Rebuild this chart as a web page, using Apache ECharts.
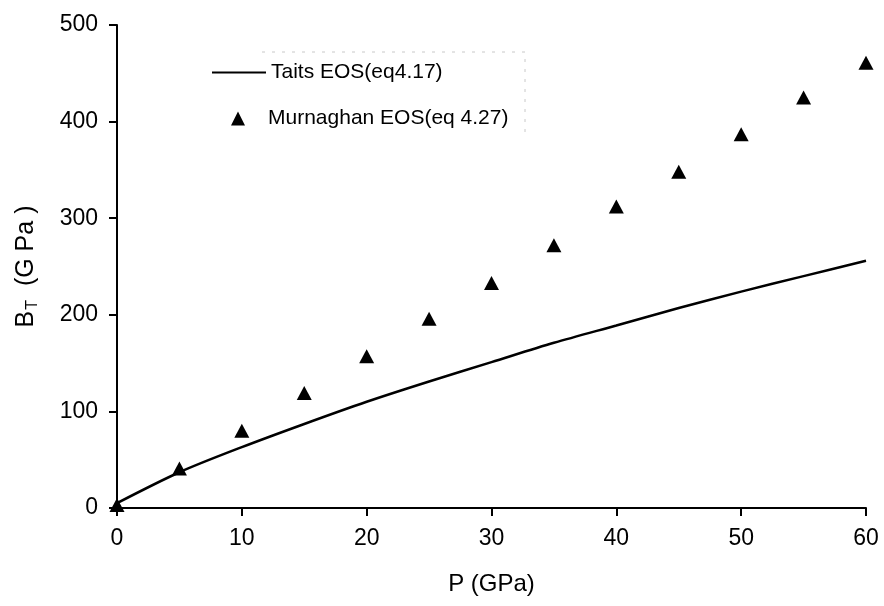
<!DOCTYPE html>
<html>
<head>
<meta charset="utf-8">
<script src="https://cdn.jsdelivr.net/npm/echarts@6/dist/echarts.min.js"></script>
<style>
  html, body { margin: 0; padding: 0; background: #fff; }
  #chart { width: 884px; height: 606px; }
</style>
</head>
<body>
<div id="chart"></div>
<script>
// Pressure points (GPa)
var pressure = [0, 5, 10, 15, 20, 25, 30, 35, 40, 45, 50, 55, 60];
// Isothermal bulk modulus B_T (GPa) from Tait's EOS (eq 4.17)
var taitBT = [5, 37, 63, 87, 110, 131, 151, 171, 189, 207, 224, 240, 256];
// Isothermal bulk modulus B_T (GPa) from Murnaghan's EOS (eq 4.27)
var murnaghanBT = [3, 41, 80, 119, 157, 196, 233, 272, 312, 348, 387, 425, 461];

var seriesNames = ['Taits EOS(eq4.17)', 'Murnaghan EOS(eq 4.27)'];
var xTicks = { min: 0, max: 60, interval: 10 };
var yTicks = { min: 0, max: 500, interval: 100 };

var FONT = '"Liberation Sans", Arial, Helvetica, sans-serif';

function pairs(xs, ys) {
  return xs.map(function (x, i) { return [x, ys[i]]; });
}

var chart = echarts.init(document.getElementById('chart'), null, { renderer: 'canvas' });

var axisCommon = {
  axisLine: { show: true, lineStyle: { color: '#000', width: 2 } },
  axisTick: { show: true, inside: false, length: 8, lineStyle: { color: '#000', width: 2 } },
  splitLine: { show: false },
  axisLabel: { color: '#000', fontSize: 23, fontFamily: FONT, margin: 19 }
};

chart.setOption({
  backgroundColor: '#fff',
  animation: false,
  grid: { left: 117, right: 18, top: 25, bottom: 98, containLabel: false },
  xAxis: Object.assign({
    type: 'value',
    min: xTicks.min, max: xTicks.max, interval: xTicks.interval,
    name: 'P (GPa)',
    nameLocation: 'middle',
    nameGap: 64,
    nameTextStyle: { color: '#000', fontSize: 24, fontFamily: FONT }
  }, axisCommon),
  yAxis: Object.assign({
    type: 'value',
    min: yTicks.min, max: yTicks.max, interval: yTicks.interval,
    name: '{b|B}{t|T}{b|  (G Pa )}',
    nameLocation: 'middle',
    nameGap: 76,
    nameTextStyle: {
      color: '#000', fontFamily: FONT,
      rich: {
        b: { fontSize: 25, fontFamily: FONT, color: '#000' },
        t: { fontSize: 16, fontFamily: FONT, color: '#000', padding: [13, 0, 0, 1] }
      }
    }
  }, axisCommon),
  legend: [
    {
      data: [{ name: seriesNames[0], icon: 'rect' }],
      left: 212, top: 62, padding: 0,
      itemWidth: 54, itemHeight: 2,
      textStyle: { color: '#000', fontSize: 21, fontFamily: FONT },
      selectedMode: false
    },
    {
      data: [{ name: seriesNames[1], icon: 'triangle' }],
      left: 231, top: 108, padding: 0,
      itemWidth: 14, itemHeight: 14,
      textStyle: { color: '#000', fontSize: 21, fontFamily: FONT, padding: [0, 0, 0, 18] },
      selectedMode: false
    }
  ],
  graphic: [
    {
      type: 'polyline',
      silent: true,
      shape: { points: [[262, 52], [525, 52], [525, 135]] },
      style: { stroke: '#c8c8c8', lineWidth: 1, lineDash: [3, 7], fill: null }
    }
  ],
  series: [
    {
      name: seriesNames[0],
      type: 'line',
      data: pairs(pressure, taitBT),
      smooth: 0.3,
      showSymbol: false,
      symbol: 'none',
      lineStyle: { color: '#000', width: 2.5 },
      itemStyle: { color: '#000' },
      z: 2
    },
    {
      name: seriesNames[1],
      type: 'scatter',
      data: pairs(pressure, murnaghanBT),
      symbol: 'triangle',
      symbolSize: [15, 14],
      itemStyle: { color: '#000', opacity: 1 },
      z: 3
    }
  ]
});
</script>
</body>
</html>
